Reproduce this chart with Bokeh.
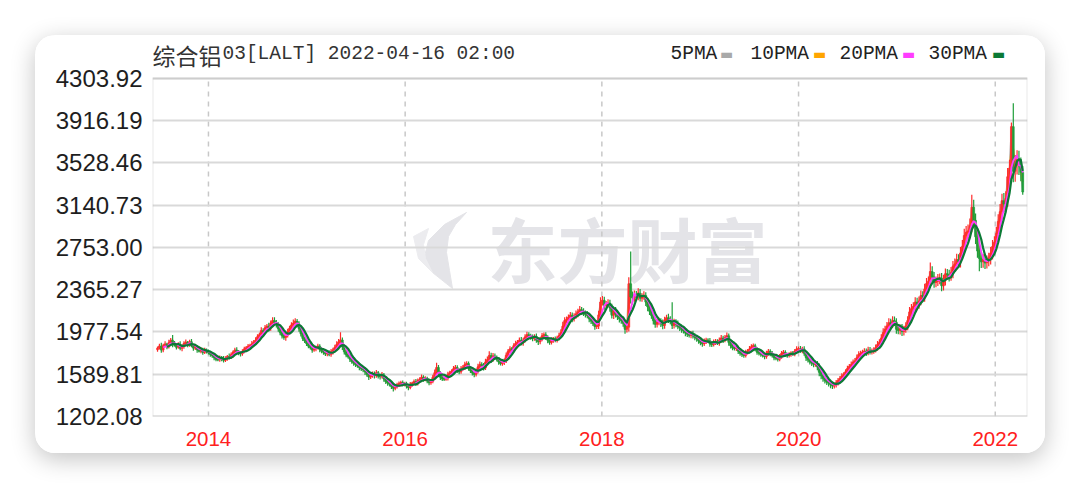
import numpy as np
import pandas as pd
from bokeh.plotting import figure
from bokeh.models import Range1d, FixedTicker, PrintfTickFormatter, Label, BoxAnnotation
from bokeh.core.properties import value
from bokeh.embed import file_html
from bokeh.resources import INLINE

# ---------------- data (weekly) ----------------
week_starts = {2013: "2013-06-28", 2014: "2014-01-03", 2015: "2015-01-02", 2016: "2016-01-01",
               2017: "2017-01-06", 2018: "2018-01-05", 2019: "2019-01-04", 2020: "2020-01-03",
               2021: "2021-01-01", 2022: "2022-01-07"}

closes_2013 = [1830, 1848, 1812, 1852, 1868, 1842, 1878, 1902, 1868, 1856, 1838, 1862, 1828, 1846,
               1872, 1884, 1858, 1888, 1852, 1830, 1842, 1814, 1802, 1822, 1790, 1812, 1798]
closes_2014 = [1788, 1772, 1760, 1742, 1728, 1722, 1742, 1734, 1718, 1736, 1752, 1744, 1768,
               1792, 1812, 1798, 1786, 1778, 1796, 1822, 1832, 1846, 1852, 1868, 1884, 1902,
               1934, 1952, 1990, 1978, 2016, 2030, 2012, 2058, 2082, 2066, 2048, 2008, 1972,
               1944, 1928, 1948, 1978, 2012, 2042, 2058, 2076, 2052, 2008, 1962, 1918, 1896]
closes_2015 = [1872, 1848, 1834, 1812, 1824, 1836, 1848, 1818, 1802, 1792, 1776, 1788, 1770,
               1796, 1812, 1836, 1862, 1886, 1904, 1842, 1796, 1768, 1752, 1728, 1706, 1692,
               1678, 1668, 1652, 1640, 1632, 1612, 1588, 1564, 1582, 1596, 1578, 1604, 1572,
               1568, 1584, 1546, 1522, 1510, 1498, 1478, 1462, 1474, 1492, 1502, 1514, 1498]
closes_2016 = [1500, 1482, 1468, 1496, 1508, 1522, 1506, 1532, 1540, 1562, 1544, 1552, 1528,
               1512, 1524, 1562, 1604, 1652, 1598, 1562, 1548, 1546, 1552, 1588, 1602, 1618,
               1640, 1652, 1628, 1612, 1642, 1652, 1678, 1688, 1644, 1622, 1602, 1588, 1616, 1658,
               1680, 1668, 1648, 1702, 1724, 1762, 1728, 1758, 1742, 1728, 1702, 1688, 1700]
closes_2017 = [1712, 1764, 1802, 1822, 1818, 1852, 1872, 1884, 1902, 1878, 1902, 1932, 1952,
               1942, 1928, 1918, 1936, 1902, 1888, 1912, 1942, 1952, 1928, 1902, 1882, 1904,
               1912, 1906, 1922, 1944, 1972, 2032, 2082, 2092, 2112, 2132, 2098, 2122, 2142,
               2162, 2182, 2168, 2150, 2138, 2128, 2098, 2078, 2058, 2028, 2032, 2134, 2252]
closes_2018 = [2268, 2218, 2232, 2242, 2198, 2132, 2172, 2142, 2118, 2098, 2082, 2058, 2002,
               2022, 2420, 2300, 2290, 2318, 2306, 2334, 2288, 2302, 2312, 2252, 2208, 2168,
               2128, 2082, 2048, 2068, 2078, 2058, 2038, 2088, 2108, 2092, 2078, 2038, 2068,
               2052, 2028, 2018, 1998, 1988, 1968, 1958, 1948, 1962, 1942, 1928, 1918, 1898]
closes_2019 = [1878, 1868, 1892, 1902, 1898, 1868, 1862, 1882, 1892, 1878, 1902, 1922, 1904,
               1924, 1942, 1882, 1852, 1832, 1828, 1834, 1802, 1782, 1772, 1762, 1792, 1802,
               1822, 1842, 1852, 1822, 1792, 1782, 1772, 1762, 1752, 1782, 1802, 1782, 1762,
               1742, 1738, 1728, 1752, 1782, 1792, 1772, 1762, 1772, 1782, 1778, 1802, 1822]
closes_2020 = [1822, 1808, 1822, 1782, 1742, 1722, 1702, 1692, 1682, 1688, 1658, 1608, 1578,
               1552, 1532, 1518, 1508, 1496, 1482, 1490, 1512, 1532, 1552, 1574, 1588, 1612,
               1642, 1662, 1678, 1702, 1712, 1742, 1772, 1782, 1792, 1802, 1788, 1812, 1798,
               1802, 1812, 1832, 1862, 1882, 1922, 1972, 2002, 2032, 2062, 2048, 2082, 2068]
closes_2021 = [2002, 1992, 2012, 1982, 2002, 2032, 2082, 2162, 2192, 2212, 2252, 2232, 2262,
               2312, 2302, 2372, 2422, 2442, 2532, 2482, 2432, 2442, 2462, 2472, 2402, 2452,
               2512, 2502, 2492, 2522, 2582, 2602, 2642, 2622, 2702, 2762, 2862, 2892, 2902,
               2952, 3122, 3002, 2852, 2722, 2652, 2622, 2642, 2612, 2632, 2652, 2702, 2762, 2802]
closes_2022 = [2882, 2992, 3082, 3182, 3152, 3202, 3402, 3482, 3862, 3452, 3512, 3562,
               3502, 3442, 3262]
first_open = 1815

# weekly wick lengths above / below the candle body
wick_up_2013 = [15, 22, 30, 18, 25, 12, 28, 20, 14, 26, 18, 22, 30, 16, 20, 24, 12, 18, 26, 14,
                20, 16, 22, 18, 12, 20, 14]
wick_dn_2013 = [18, 12, 26, 20, 14, 22, 16, 24, 30, 12, 20, 14, 18, 26, 22, 12, 20, 16, 14, 24,
                18, 26, 12, 20, 22, 14, 18]
wick_up_2014 = [20, 14, 22, 18, 12, 26, 20, 16, 24, 18, 14, 28, 22, 16, 20, 26, 14, 18, 24, 20,
                16, 22, 18, 26, 20, 28, 24, 18, 30, 22, 26, 20, 32, 24, 28, 30, 22, 18, 26, 20,
                28, 24, 30, 22, 26, 34, 28, 20, 24, 18, 22, 16]
wick_dn_2014 = [16, 22, 18, 24, 20, 14, 18, 26, 20, 16, 22, 18, 14, 24, 20, 16, 22, 26, 18, 14,
                20, 24, 16, 20, 22, 18, 26, 30, 20, 28, 22, 26, 30, 24, 20, 22, 30, 28, 24, 26,
                22, 30, 20, 26, 24, 18, 22, 30, 28, 26, 24, 20]
wick_up_2015 = [22, 18, 26, 20, 24, 16, 22, 18, 20, 14, 24, 18, 22, 26, 20, 24, 30, 28, 40, 24,
                20, 18, 22, 16, 20, 18, 14, 22, 18, 16, 20, 24, 18, 22, 26, 20, 18, 24, 16, 20,
                26, 18, 22, 16, 20, 14, 18, 24, 20, 22, 16, 18]
wick_dn_2015 = [24, 20, 18, 26, 16, 22, 18, 26, 20, 24, 18, 22, 16, 20, 24, 18, 22, 20, 26, 30,
                24, 22, 18, 26, 20, 24, 22, 18, 26, 20, 24, 28, 22, 26, 18, 24, 28, 20, 22, 26,
                18, 24, 22, 26, 20, 24, 30, 18, 16, 20, 22, 18]
wick_up_2016 = [16, 20, 18, 22, 14, 20, 24, 18, 22, 26, 18, 20, 16, 22, 18, 24, 30, 36, 22, 20,
                18, 16, 22, 24, 20, 18, 26, 22, 20, 18, 24, 22, 26, 20, 18, 22, 20, 16, 24, 28,
                26, 20, 24, 30, 28, 36, 24, 26, 22, 20, 18, 24, 20]
wick_dn_2016 = [18, 22, 26, 16, 20, 18, 22, 20, 16, 22, 24, 18, 20, 24, 18, 16, 22, 28, 30, 24,
                20, 18, 16, 20, 22, 24, 18, 20, 26, 22, 18, 20, 24, 28, 22, 20, 24, 26, 18, 20,
                22, 26, 24, 20, 22, 26, 30, 24, 20, 22, 26, 18, 20]
wick_up_2017 = [22, 26, 20, 24, 18, 22, 26, 20, 24, 30, 22, 26, 28, 24, 20, 26, 22, 28, 24, 20,
                26, 22, 24, 20, 18, 22, 20, 24, 22, 26, 30, 40, 32, 28, 26, 30, 24, 28, 32, 30,
                34, 26, 28, 24, 30, 26, 22, 28, 24, 30, 38, 44]
wick_dn_2017 = [26, 20, 24, 18, 22, 26, 20, 24, 28, 22, 26, 20, 24, 28, 22, 26, 20, 24, 30, 22,
                20, 26, 24, 28, 22, 20, 26, 22, 24, 20, 22, 26, 30, 24, 28, 26, 30, 24, 22, 28,
                24, 30, 26, 28, 24, 30, 28, 26, 30, 24, 26, 30]
wick_up_2018 = [40, 34, 30, 36, 32, 38, 30, 34, 28, 32, 30, 26, 30, 40, 60, 70, 50, 40, 36, 44,
                38, 32, 40, 30, 34, 28, 30, 26, 32, 28, 30, 26, 34, 30, 28, 36, 30, 50, 32, 26,
                30, 24, 28, 22, 26, 24, 28, 22, 26, 24, 20, 22]
wick_dn_2018 = [30, 36, 32, 28, 34, 30, 36, 32, 30, 34, 28, 32, 40, 30, 40, 60, 60, 34, 40, 36,
                30, 34, 28, 36, 40, 34, 30, 36, 32, 30, 28, 34, 36, 30, 28, 32, 30, 34, 28, 30,
                26, 32, 28, 24, 30, 26, 22, 28, 24, 26, 30, 28]
wick_up_2019 = [24, 20, 26, 22, 18, 24, 20, 26, 22, 18, 24, 28, 20, 26, 30, 22, 18, 24, 20, 22,
                18, 20, 16, 24, 22, 20, 26, 24, 20, 18, 16, 22, 18, 20, 16, 24, 20, 18, 22, 16,
                20, 18, 24, 22, 20, 18, 16, 20, 18, 22, 20, 24]
wick_dn_2019 = [22, 26, 18, 24, 20, 26, 22, 18, 24, 20, 26, 22, 28, 20, 24, 30, 26, 22, 20, 24,
                26, 22, 24, 20, 18, 22, 20, 24, 26, 22, 24, 20, 22, 18, 24, 20, 22, 26, 18, 24,
                20, 22, 18, 20, 24, 22, 20, 18, 22, 20, 24, 18]
wick_up_2020 = [22, 26, 20, 24, 18, 20, 24, 22, 18, 26, 24, 30, 28, 32, 26, 24, 22, 20, 24, 22,
                26, 24, 22, 26, 20, 24, 26, 22, 28, 24, 26, 30, 28, 24, 22, 26, 24, 30, 28, 24,
                26, 30, 34, 28, 36, 40, 34, 38, 42, 36, 40, 38]
wick_dn_2020 = [24, 20, 26, 22, 30, 24, 22, 26, 28, 24, 32, 36, 34, 30, 28, 26, 30, 34, 28, 24,
                22, 26, 24, 20, 26, 22, 24, 28, 22, 26, 24, 20, 26, 28, 24, 22, 30, 24, 26, 28,
                24, 22, 26, 30, 28, 32, 36, 30, 34, 40, 32, 36]
wick_up_2021 = [36, 40, 34, 38, 32, 36, 40, 44, 42, 38, 44, 40, 42, 46, 40, 48, 52, 44, 84, 50,
                46, 44, 48, 42, 46, 50, 48, 44, 46, 52, 48, 50, 54, 48, 56, 60, 64, 58, 62, 66,
                115, 70, 64, 58, 52, 56, 50, 54, 48, 52, 56, 60, 54]
wick_dn_2021 = [40, 34, 38, 42, 36, 32, 38, 42, 44, 40, 38, 46, 42, 40, 44, 48, 42, 46, 50, 54,
                48, 44, 42, 46, 50, 44, 48, 46, 50, 44, 52, 48, 50, 54, 52, 56, 60, 62, 58, 64,
                60, 70, 66, 62, 118, 58, 54, 56, 52, 50, 54, 58, 56]
wick_up_2022 = [60, 66, 70, 64, 72, 68, 80, 76, 38, 214, 90, 84, 80, 76, 60]
wick_dn_2022 = [64, 58, 66, 72, 70, 76, 74, 80, 90, 100, 96, 88, 84, 80, 25]

# notable extremes (week ending date -> value)
wick_high_dates = ["2013-08-23", "2014-08-29", "2014-11-21", "2015-05-08", "2016-04-29",
                   "2016-11-11", "2017-12-29", "2018-04-20", "2018-09-21", "2019-04-12"]
wick_high_values = [1950, 2112, 2098, 1975, 1695, 1800, 2290, 2716, 2250, 1962]
wick_low_dates = ["2015-11-20", "2018-04-06", "2020-05-08"]
wick_low_values = [1450, 1980, 1455]

y_tick_labels = ["1202.08", "1589.81", "1977.54", "2365.27", "2753.00",
                 "3140.73", "3528.46", "3916.19", "4303.92"]
x_tick_years = [2014, 2016, 2018, 2020, 2022]

ma_names = ["5PMA", "10PMA", "20PMA", "30PMA"]
ma_windows_weeks = [1, 2, 4, 6]          # 5/10/20/30 trading days expressed in weeks
ma_colors = ["#a9a9a9", "#ffa500", "#ff3cff", "#0b7a35"]
ma_widths = [1.5, 1.8, 1.8, 2.2]

# ---------------- assemble ----------------
yearly = [closes_2013, closes_2014, closes_2015, closes_2016, closes_2017,
          closes_2018, closes_2019, closes_2020, closes_2021, closes_2022]
ups = [wick_up_2013, wick_up_2014, wick_up_2015, wick_up_2016, wick_up_2017,
       wick_up_2018, wick_up_2019, wick_up_2020, wick_up_2021, wick_up_2022]
dns = [wick_dn_2013, wick_dn_2014, wick_dn_2015, wick_dn_2016, wick_dn_2017,
       wick_dn_2018, wick_dn_2019, wick_dn_2020, wick_dn_2021, wick_dn_2022]
dates, closes, wu, wd = [], [], [], []
for yr, lst, u, dn in zip(sorted(week_starts), yearly, ups, dns):
    n = len(lst)
    dates.extend(pd.date_range(week_starts[yr], periods=n, freq="W-FRI"))
    closes.extend(lst)
    wu.extend((list(u) + [0] * n)[:n])
    wd.extend((list(dn) + [0] * n)[:n])
dates = pd.DatetimeIndex(dates)
closes = np.array(closes, dtype=float)
opens = np.concatenate([[first_open], closes[:-1]])
body_top = np.maximum(opens, closes)
body_bot = np.minimum(opens, closes)
highs = body_top + np.array(wu, dtype=float)
lows = body_bot - np.array(wd, dtype=float)
hmap = dict(zip(pd.to_datetime(wick_high_dates), wick_high_values))
lmap = dict(zip(pd.to_datetime(wick_low_dates), wick_low_values))
for i, d in enumerate(dates):
    if d in hmap:
        highs[i] = max(highs[i], hmap[d])
    if d in lmap:
        lows[i] = min(lows[i], lmap[d])


def frac_year(d):
    d = d - pd.Timedelta(days=2)
    s = pd.Timestamp(year=d.year, month=1, day=1)
    e = pd.Timestamp(year=d.year + 1, month=1, day=1)
    return d.year + (d - s) / (e - s)


xs = np.array([frac_year(d) for d in dates])
up = closes >= opens
cols = np.where(up, "#ff2b2b", "#1f9e3a")

X_START, X_END = 2013.431, 2022.328
Y_MIN, Y_MAX = float(y_tick_labels[0]), float(y_tick_labels[-1])
BOX_L, BOX_T, BOX_W, BOX_H = 152, 78, 875, 338     # plot box on screen
FIG_T = 35
MB_TOP = 3


def sx(px):
    return X_START + (px - BOX_L) * (X_END - X_START) / BOX_W


def sy(py):
    return Y_MAX - (py - BOX_T) * (Y_MAX - Y_MIN) / BOX_H


p = figure(width=1010, height=418, output_backend="svg", toolbar_location=None, title=None,
           x_range=Range1d(X_START, X_END), y_range=Range1d(Y_MIN - 0.001, sy(FIG_T + MB_TOP)),
           min_border_left=117, min_border_right=18, min_border_top=MB_TOP, min_border_bottom=37,
           background_fill_color="white", border_fill_color="white",
           outline_line_color=None,
           margin=(35, 0, 0, 35),
           styles={"border-radius": "20px", "overflow": "hidden",
                   "box-shadow": "0 6px 24px rgba(0,0,0,0.24)"})

# axes
p.yaxis.ticker = FixedTicker(ticks=[float(t) for t in y_tick_labels])
p.yaxis.formatter = PrintfTickFormatter(format="%.2f")
p.xaxis.ticker = FixedTicker(ticks=x_tick_years)
p.xaxis.formatter = PrintfTickFormatter(format="%d")
for ax in (p.xaxis, p.yaxis):
    ax.axis_line_color = None
    ax.major_tick_line_color = None
    ax.minor_tick_line_color = None
p.yaxis.major_label_text_font = "Liberation Sans"
p.yaxis.major_label_text_font_size = "24px"
p.yaxis.major_label_text_color = "#1e1e1e"
p.yaxis.major_label_standoff = 4
p.xaxis.major_label_text_font = "Liberation Sans"
p.xaxis.major_label_text_font_size = "20.5px"
p.xaxis.major_label_text_color = "#ff2020"
p.xaxis.major_label_standoff = 9

p.ygrid.grid_line_color = "#d9d9d9"
p.ygrid.grid_line_width = 2
p.xgrid.visible = False
p.segment(x0=x_tick_years, y0=[Y_MIN] * len(x_tick_years), x1=x_tick_years,
          y1=[Y_MAX] * len(x_tick_years), line_color="#c8c8c8", line_width=1.5,
          line_dash="5 5", level="underlay")

# watermark
p.text(x=[sx(627)], y=[sy(247)], text=["东方财富"], text_font=value("Noto Sans CJK SC"),
       text_font_size="70px", text_font_style="bold", text_color="#e4e4e8",
       text_align="center", text_baseline="middle", level="image")
logo_px = [466, 444, 428, 424, 432, 452, 449, 446, 448, 455, 466]
logo_py = [212, 224, 240, 256, 272, 288, 270, 252, 236, 224, 212]
p.patch([sx(v) for v in logo_px], [sy(v) for v in logo_py], color="#e4e4e8", level="image")
logo2_px = [413, 428, 423, 425, 432, 418, 413]
logo2_py = [236, 228, 244, 258, 272, 258, 236]
p.patch([sx(v) for v in logo2_px], [sy(v) for v in logo2_py], color="#ececef", level="image")

# moving averages (5 & 10 under the candles, 20 & 30 over)
cs = pd.Series(closes)
ma_vals = [cs.rolling(w).mean().values for w in ma_windows_weeks]
for k in (0, 1):
    p.line(xs, ma_vals[k], line_color=ma_colors[k], line_width=ma_widths[k], line_join="round")

# candles
bw = 1.0 * 7 / 365.25
p.segment(x0=xs, y0=highs, x1=xs, y1=lows, line_color=cols, line_width=1.2)
p.vbar(x=xs, width=bw, top=body_top, bottom=body_bot,
       fill_color=cols, line_color=cols, line_width=0.6)

for k in (2, 3):
    p.line(xs, ma_vals[k], line_color=ma_colors[k], line_width=ma_widths[k], line_join="round")

# plot box
p.add_layout(BoxAnnotation(left=X_START, right=X_END, bottom=Y_MIN, top=Y_MAX,
                           fill_color=None, line_color="#b4b4b4", line_width=2))

# title
ty = sy(54)
p.add_layout(Label(x=sx(152), y=ty, text="综合铝", text_font="Noto Sans CJK SC",
                   text_font_size="23px", text_color="#333333", text_baseline="middle"))
p.add_layout(Label(x=sx(222), y=ty, text="03[LALT] 2022-04-16 02:00", text_font="Liberation Mono",
                   text_font_size="19.5px", text_color="#333333", text_baseline="middle"))

# legend (label then swatch)
legend_px = [670, 750, 839, 928]
swatch_px = [726, 819, 908, 998]
for name, c, lx, swx in zip(ma_names, ma_colors, legend_px, swatch_px):
    p.add_layout(Label(x=sx(lx), y=ty, text=name, text_font="Liberation Mono",
                       text_font_size="19.5px", text_color="#222222", text_baseline="middle"))
    p.add_layout(Label(x=sx(swx), y=ty, text="▬", text_font="DejaVu Sans",
                       text_font_size="14px", text_color=c, text_baseline="middle",
                       text_align="center"))

open("out.html", "w").write(file_html(p, INLINE))
